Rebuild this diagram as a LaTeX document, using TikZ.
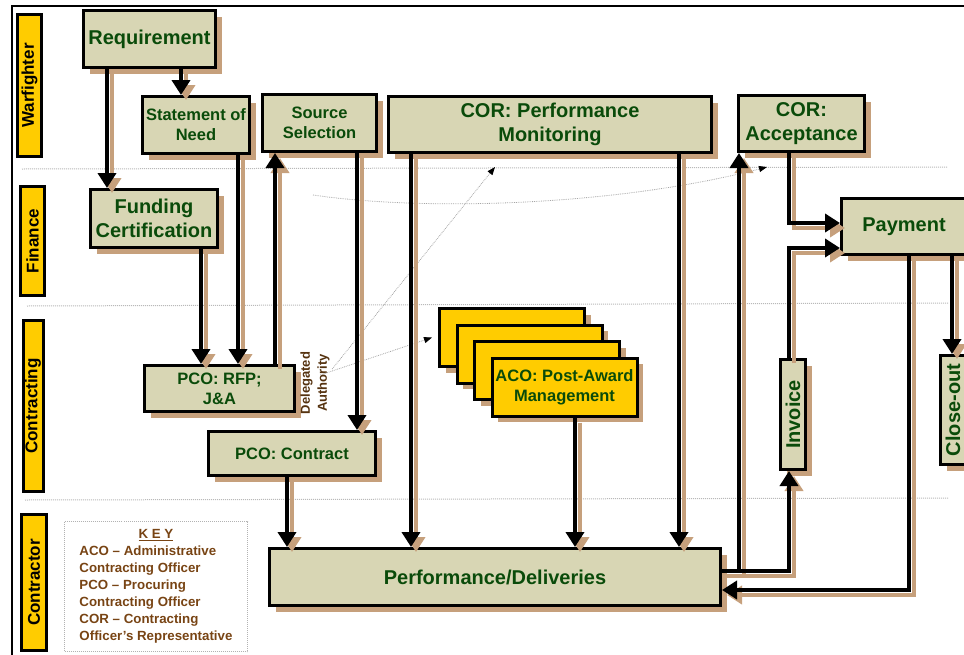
\documentclass[tikz,border=0pt]{standalone}
\usepackage{fontspec}
\setmainfont{Liberation Sans}
\usetikzlibrary{positioning}
\usetikzlibrary{shapes,arrows.meta,shadows}

\definecolor{boxfill}{RGB}{216,214,180}
\definecolor{shadowbrown}{RGB}{198,160,124}
\definecolor{txtgreen}{RGB}{10,75,10}
\definecolor{lanegold}{RGB}{255,204,0}
\definecolor{keybrown}{RGB}{120,68,20}
\definecolor{delbrown}{RGB}{85,50,15}

\tikzset{
  box/.style={rectangle,draw,line width=3pt,fill=boxfill,text=txtgreen,align=center,inner sep=1pt,
    font=\bfseries\fontsize{20}{24}\selectfont,
    drop shadow={shadow xshift=6pt,shadow yshift=-6pt,fill=shadowbrown,opacity=1}},
  smalltext/.style={font=\bfseries\fontsize{16.5}{20}\selectfont},
  acobox/.style={box,fill=lanegold},
  lane/.style={rectangle,draw,line width=3pt,fill=lanegold,inner sep=0pt,
    font=\bfseries\fontsize{17}{19}\selectfont},
  keybox/.style={rectangle,draw=gray!60,densely dotted,line width=1pt,text=keybrown,
    font=\bfseries\fontsize{13.3}{17}\selectfont},
  flow/.style={line width=4pt,-{Triangle[width=18pt,length=15pt]},
    preaction={draw=shadowbrown,line width=4pt,transform canvas={shift={(5pt,-5pt)}}}},
  hint/.style={draw=gray!70,line width=0.8pt,densely dotted,-{Triangle[width=6pt,length=8pt,color=black]}},
  lanesep/.style={draw=gray!55,line width=1pt,densely dotted}
}

\begin{document}
\begin{tikzpicture}[x=1pt,y=-1pt]
    \useasboundingbox (0,0) rectangle (964,654);
    \draw[line width=2pt] (12,660) -- (12,6) -- (975,6);
    %Lanes
    \node[lane,minimum width=24pt,minimum height=142pt] (warf) at (29.5,85.5) {\rotatebox{90}{Warfighter}};
    \node[lane,minimum width=24pt,minimum height=109pt] (fin) at (32.5,241) {\rotatebox{90}{Finance}};
    \node[lane,minimum width=20pt,minimum height=171pt] (contg) at (33,406) {\rotatebox{90}{Contracting}};
    \node[lane,minimum width=25pt,minimum height=136pt] (contr) at (34,582.5) {\rotatebox{90}{Contractor}};
    \draw[lanesep] (22,169) -- (948,167);
    \draw[lanesep] (27,306) -- (948,303);
    \draw[lanesep] (25,500) -- (948,498);
    %Boxes
    \node[box,minimum width=132pt,minimum height=57pt] (req) at (149.5,39) {Requirement};
    \node[box,smalltext,minimum width=107pt,minimum height=57pt] (son) at (196,125) {Statement of\\Need};
    \node[box,smalltext,minimum width=114pt,minimum height=57pt] (src) at (319.5,123) {Source\\Selection};
    \node[box,minimum width=323pt,minimum height=56pt] (perf) at (550,124.5) {COR: Performance\\Monitoring};
    \node[box,minimum width=126pt,minimum height=56pt] (acc) at (801.5,123.5) {COR:\\Acceptance};
    \node[box,minimum width=125pt,minimum height=56pt] (pay) at (904,226.5) {Payment};
    \node[box,minimum width=127pt,minimum height=58pt] (fund) at (154,218.5) {Funding\\Certification};
    \node[box,smalltext,minimum width=150pt,minimum height=46pt] (rfp) at (219.5,388.5) {PCO: RFP;\\J\&A};
    \node[box,smalltext,minimum width=167pt,minimum height=44pt] (pcoc) at (292,453.5) {PCO: Contract};
    \foreach \i in {0,1,2} {
        \node[acobox,minimum width=145pt,minimum height=58pt] (aco\i) at (512+17.5*\i,337.5+16.5*\i) {};
    }
    \node[acobox,smalltext,minimum width=145pt,minimum height=58pt] (aco) at (564.5,387) {ACO: Post-Award\\Management};
    \node[box,minimum width=25pt,minimum height=110pt] (inv) at (793,414.5) {\rotatebox{90}{Invoice}};
    \node[box,minimum width=25pt,minimum height=109pt] (close) at (953,410) {\rotatebox{90}{Close-out}};
    \node[box,minimum width=451pt,minimum height=57pt] (pd) at (495,577) {Performance/Deliveries};
    %Key
    \node[keybox,minimum width=183pt,minimum height=130pt] (key) at (156,586.5) {\begin{tabular}{@{}l@{}}
        \multicolumn{1}{@{}c@{}}{\underline{K E Y}}\\
        ACO – Administrative\\Contracting Officer\\
        PCO – Procuring\\Contracting Officer\\
        COR – Contracting\\Officer’s Representative\end{tabular}};
    \node[text=delbrown,font=\bfseries\fontsize{13}{17}\selectfont,inner sep=0pt] (deleg) at (315,383)
        {\rotatebox{90}{\begin{tabular}{@{}c@{}}Delegated\\Authority\end{tabular}}};
    %Delegation hints
    \coordinate (curvestart) at (313,195);
    \draw[hint] ([yshift=14pt]deleg.east) -- ([xshift=-55pt,yshift=-13pt]perf.south);
    \draw[hint] ([xshift=-12pt,yshift=8pt]deleg.east) -- ([xshift=-6pt]aco0.west);
    \draw[hint] (curvestart) .. controls (430,212) and (620,205) .. ([xshift=30pt,yshift=-14pt]acc.south west);
    %Flows down the lanes
    \draw[flow] (req.south -| 107,0) -- (fund.north -| 107,0);
    \draw[flow] (req.south -| 181,0) -- (son.north -| 181,0);
    \draw[flow] (son.south -| 238,0) -- (rfp.north -| 238,0);
    \draw[flow] (fund.south -| 201,0) -- (rfp.north -| 201,0);
    \draw[flow] (rfp.north -| 275,0) -- (src.south -| 275,0);
    \draw[flow] (src.south -| 357,0) -- (pcoc.north -| 357,0);
    \draw[flow] (pcoc.south -| 287,0) -- (pd.north -| 287,0);
    \draw[flow] (perf.south -| 411,0) -- (pd.north -| 411,0);
    \draw[flow] (perf.south -| 679,0) -- (pd.north -| 679,0);
    \draw[flow] (aco.south -| 575,0) -- (pd.north -| 575,0);
    %Flows on the right
    \draw[flow] (pd.east |- 0,571) -| (acc.south -| 739,0);
    \draw[flow] (pd.east |- 0,571) -| (inv.south -| 789,0);
    \draw[flow] (inv.north -| 789,0) |- (pay.west |- 0,248);
    \draw[flow] (acc.south -| 789,0) |- (pay.west |- 0,223);
    \draw[flow] (pay.south -| 909,0) |- (pd.east |- 0,590);
    \draw[flow] (pay.south -| 952,0) -- (close.north -| 952,0);
\end{tikzpicture}
\end{document}
